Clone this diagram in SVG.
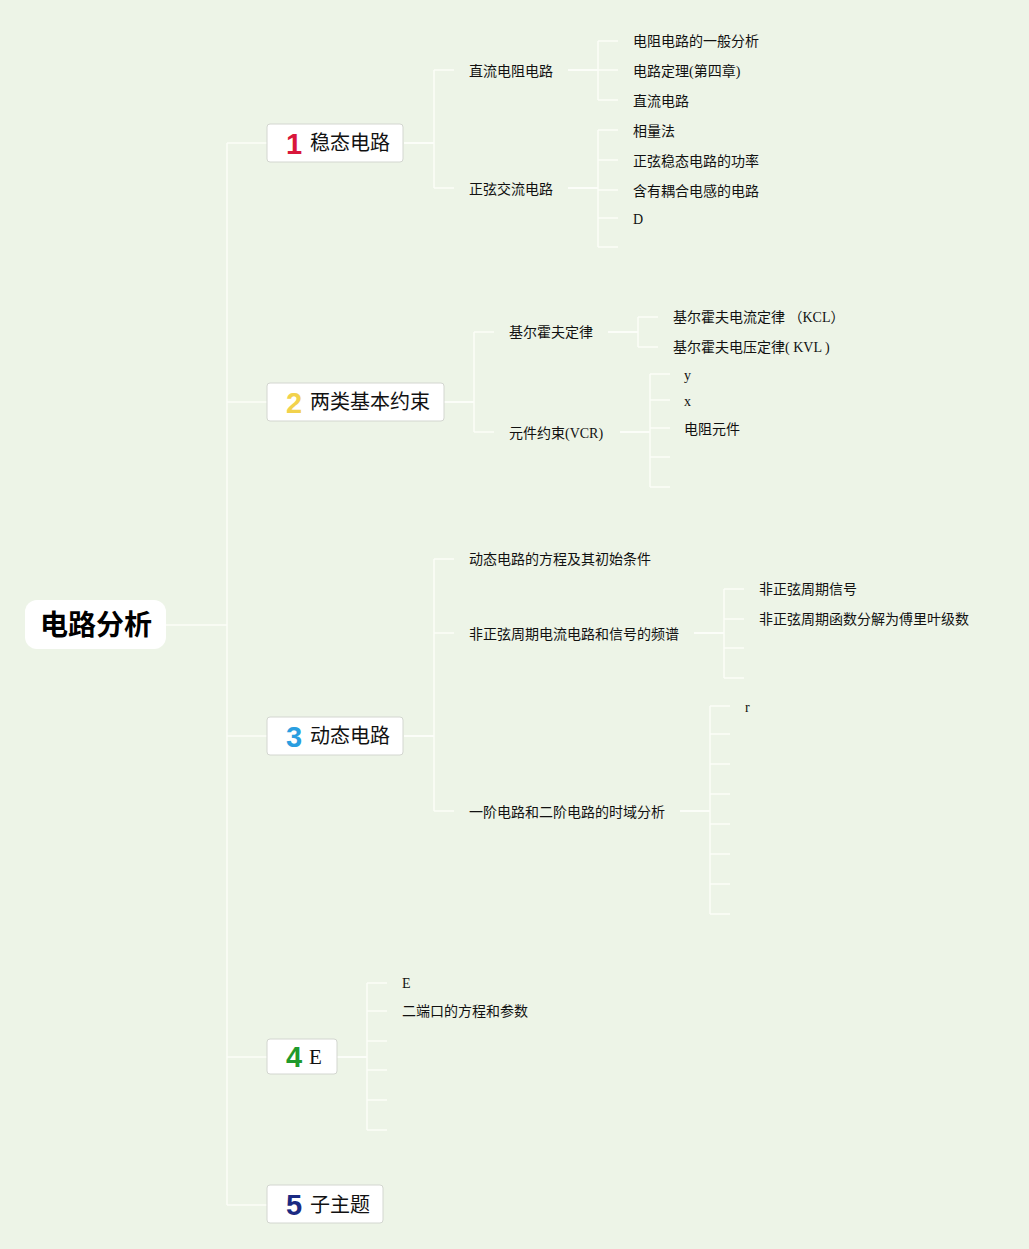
<svg xmlns="http://www.w3.org/2000/svg" width="1029" height="1249" viewBox="0 0 1029 1249">
<style>
.bg{fill:#edf4e7}
.ln{fill:none;stroke:#fbfdf8;stroke-width:1.5}
.lnb{fill:none;stroke:#fbfdf8;stroke-width:2}
.box{fill:#ffffff;stroke:#d3d6d0;stroke-width:1}
.num{font-family:"Liberation Sans","DejaVu Sans",sans-serif;font-weight:bold;font-size:29px}
.t1{font-family:"Noto Sans CJK SC","Liberation Sans",sans-serif;font-size:20px;fill:#111}
.t2{font-family:"Liberation Serif","Noto Sans CJK SC",serif;font-size:14px;fill:#111}
.e{font-family:"Liberation Serif",serif;font-size:21px;fill:#111}
</style>
<rect class="bg" x="0" y="0" width="1029" height="1249"/>
<g id="connectors">
<path class="ln" d="M166 625H227M227 143V1205M227 143H267M227 402H267M227 736H267M227 1057H267M227 1205H267"/>
<path class="lnb" d="M404 143H434"/>
<path class="ln" d="M434 70V188M434 70H454M434 188H454"/>
<path class="lnb" d="M568 70H598"/>
<path class="ln" d="M598 41V100M598 41H618M598 70H618M598 100H618"/>
<path class="lnb" d="M568 188H598"/>
<path class="ln" d="M598 130V247M598 130H618M598 160H618M598 190H618M598 218H618M598 247H618"/>
<path class="lnb" d="M444 402H474"/>
<path class="ln" d="M474 332V432M474 332H494M474 432H494"/>
<path class="lnb" d="M608 332H638"/>
<path class="ln" d="M638 317V347M638 317H658M638 347H658"/>
<path class="lnb" d="M620 432H650"/>
<path class="ln" d="M650 374V487M650 374H670M650 400H670M650 428H670M650 457H670M650 487H670"/>
<path class="lnb" d="M404 736H434"/>
<path class="ln" d="M434 559V811M434 559H454M434 633H454M434 811H454"/>
<path class="lnb" d="M694 633H724"/>
<path class="ln" d="M724 589V678M724 589H744M724 619H744M724 648H744M724 678H744"/>
<path class="lnb" d="M680 811H710"/>
<path class="ln" d="M710 706V914M710 706H730M710 734H730M710 764H730M710 794H730M710 824H730M710 854H730M710 884H730M710 914H730"/>
<path class="lnb" d="M337 1057H367"/>
<path class="ln" d="M367 983V1130M367 983H387M367 1011H387M367 1041H387M367 1070H387M367 1100H387M367 1130H387"/>
</g>
<g id="root">
<rect x="25" y="600" width="141" height="49" rx="12" fill="#ffffff"/>
<text x="96" y="635" text-anchor="middle" font-family="Noto Sans CJK SC,sans-serif" font-weight="bold" font-size="28" fill="#000">电路分析</text>
</g>
<g id="n1">
<rect class="box" x="267" y="124" width="136" height="38" rx="3"/>
<text class="num" x="286" y="154" fill="#d9173b">1</text>
<text class="t1" x="310" y="150">稳态电路</text>
</g>
<g id="n1a"><text class="t2" x="469" y="76">直流电阻电路</text></g>
<g id="n1a1"><text class="t2" x="633" y="46">电阻电路的一般分析</text></g>
<g id="n1a2"><text class="t2" x="633" y="76">电路定理(第四章)</text></g>
<g id="n1a3"><text class="t2" x="633" y="106">直流电路</text></g>
<g id="n1b"><text class="t2" x="469" y="194">正弦交流电路</text></g>
<g id="n1b1"><text class="t2" x="633" y="136">相量法</text></g>
<g id="n1b2"><text class="t2" x="633" y="166">正弦稳态电路的功率</text></g>
<g id="n1b3"><text class="t2" x="633" y="196">含有耦合电感的电路</text></g>
<g id="n1b4"><text class="t2" x="633" y="224">D</text></g>
<g id="n2">
<rect class="box" x="267" y="383" width="177" height="38" rx="3"/>
<text class="num" x="286" y="413" fill="#f2d24c">2</text>
<text class="t1" x="310" y="409">两类基本约束</text>
</g>
<g id="n2a"><text class="t2" x="509" y="337">基尔霍夫定律</text></g>
<g id="n2a1"><text class="t2" x="673" y="322">基尔霍夫电流定律 （KCL）</text></g>
<g id="n2a2"><text class="t2" x="673" y="352">基尔霍夫电压定律( KVL )</text></g>
<g id="n2b"><text class="t2" x="509" y="438">元件约束(VCR)</text></g>
<g id="n2b1"><text class="t2" x="684" y="380">y</text></g>
<g id="n2b2"><text class="t2" x="684" y="406">x</text></g>
<g id="n2b3"><text class="t2" x="684" y="434">电阻元件</text></g>
<g id="n3">
<rect class="box" x="267" y="717" width="136" height="38" rx="3"/>
<text class="num" x="286" y="747" fill="#2a9ee0">3</text>
<text class="t1" x="310" y="743">动态电路</text>
</g>
<g id="n3a"><text class="t2" x="469" y="564">动态电路的方程及其初始条件</text></g>
<g id="n3b"><text class="t2" x="469" y="639">非正弦周期电流电路和信号的频谱</text></g>
<g id="n3b1"><text class="t2" x="759" y="594">非正弦周期信号</text></g>
<g id="n3b2"><text class="t2" x="759" y="624">非正弦周期函数分解为傅里叶级数</text></g>
<g id="n3c"><text class="t2" x="469" y="817">一阶电路和二阶电路的时域分析</text></g>
<g id="n3c1"><text class="t2" x="745" y="712">r</text></g>
<g id="n4">
<rect class="box" x="267" y="1039" width="70" height="35" rx="3"/>
<text class="num" x="286" y="1067" fill="#1f9a2c">4</text>
<text class="e" x="309" y="1064">E</text>
</g>
<g id="n4a"><text class="t2" x="402" y="988">E</text></g>
<g id="n4b"><text class="t2" x="402" y="1016">二端口的方程和参数</text></g>
<g id="n5">
<rect class="box" x="267" y="1185" width="116" height="38" rx="3"/>
<text class="num" x="286" y="1215" fill="#1b2a82">5</text>
<text class="t1" x="310" y="1212">子主题</text>
</g>
</svg>
